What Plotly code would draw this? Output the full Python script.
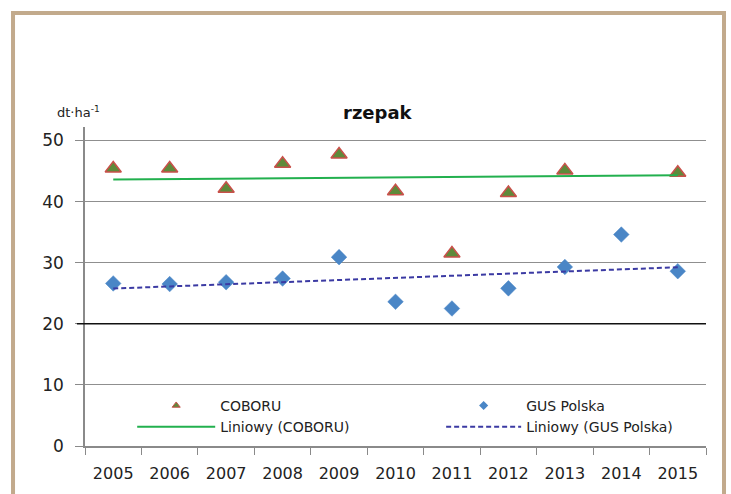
import numpy as np
import plotly.graph_objects as go

# Yields of winter oilseed rape, dt/ha
years = ["2005", "2006", "2007", "2008", "2009", "2010", "2011", "2012", "2013", "2014", "2015"]
coboru = [45.4, 45.4, 42.1, 46.2, 47.7, 41.7, 31.5, 41.4, 45.1, 52.3, 44.7]
gus_polska = [26.6, 26.5, 26.8, 27.4, 30.9, 23.6, 22.5, 25.8, 29.3, 34.6, 28.6]
y_ticks = [0, 10, 20, 30, 40, 50]


def linear_trend(values):
    t = np.arange(len(values))
    slope, intercept = np.polyfit(t, values, 1)
    return list(intercept + slope * t)


FONT = "DejaVu Sans"
TRI_FILL, TRI_EDGE = "#5e8a3a", "#c9504a"
DIA_FILL = "#4a86c6"
GREEN = "#22b04e"
NAVY = "#3b3aa3"

fig = go.Figure()

# data markers
fig.add_trace(go.Scatter(
    x=years, y=coboru, mode="markers", showlegend=False, cliponaxis=False,
    marker=dict(symbol="triangle-up", size=14, color=TRI_FILL,
                line=dict(color=TRI_EDGE, width=1.5)),
))
fig.add_trace(go.Scatter(
    x=years, y=gus_polska, mode="markers", showlegend=False, cliponaxis=False,
    marker=dict(symbol="diamond", size=12, color=DIA_FILL,
                line=dict(color=DIA_FILL, width=0.5)),
))
# linear trends
fig.add_trace(go.Scatter(
    x=years, y=linear_trend(coboru), mode="lines", showlegend=False,
    line=dict(color=GREEN, width=2),
))
fig.add_trace(go.Scatter(
    x=years, y=linear_trend(gus_polska), mode="lines", showlegend=False,
    line=dict(color=NAVY, width=2, dash="5px,3px"),
))

# legend entries (smaller legend symbols), two columns
fig.add_trace(go.Scatter(
    x=[None], y=[None], mode="markers", name="COBORU", legend="legend",
    marker=dict(symbol="triangle-up", size=7, color=TRI_FILL,
                line=dict(color=TRI_EDGE, width=1)),
))
fig.add_trace(go.Scatter(
    x=[None], y=[None], mode="lines", name="Liniowy (COBORU)", legend="legend",
    line=dict(color=GREEN, width=2),
))
fig.add_trace(go.Scatter(
    x=[None], y=[None], mode="markers", name="GUS Polska", legend="legend2",
    marker=dict(symbol="diamond", size=7, color=DIA_FILL),
))
fig.add_trace(go.Scatter(
    x=[None], y=[None], mode="lines", name="Liniowy (GUS Polska)", legend="legend2",
    line=dict(color=NAVY, width=2, dash="5px,3px"),
))

legend_style = dict(orientation="v", xanchor="left", y=0.176, yanchor="top",
                    traceorder="normal", bgcolor="rgba(0,0,0,0)",
                    font=dict(family=FONT, size=14, color="#222222"))

fig.update_layout(
    width=731, height=494,
    margin=dict(l=85, r=25, t=127, b=48),
    paper_bgcolor="white", plot_bgcolor="white",
    font=dict(family=FONT, size=16, color="#222222"),
    legend=dict(x=0.076, itemwidth=78, **legend_style),
    legend2=dict(x=0.5735, itemwidth=75, **legend_style),
    xaxis=dict(type="category", range=[-0.5, len(years) - 0.5],
               showline=True, linecolor="#8a8a8a", linewidth=1.5,
               ticks="outside", tickson="boundaries", ticklen=7,
               tickcolor="#8a8a8a", tickwidth=1.2, showgrid=False,
               ticklabelstandoff=12,
               tickfont=dict(size=16, color="#222222"), fixedrange=True),
    yaxis=dict(range=[0, 52.2], tickvals=y_ticks, showgrid=True,
               gridcolor="#8f8f8f", gridwidth=1.2, zeroline=False,
               showline=True, linecolor="#8a8a8a", linewidth=1.5,
               ticks="outside", ticklen=8, tickcolor="#8a8a8a", tickwidth=1.2,
               ticklabelstandoff=8,
               tickfont=dict(size=17, color="#222222"), fixedrange=True),
    annotations=[
        dict(text="<b>rzepak</b>", xref="paper", yref="paper",
             x=0.472, y=1.047, xanchor="center", yanchor="middle", showarrow=False,
             font=dict(family=FONT, size=18, color="#111111")),
        dict(text="dt·ha<sup>-1</sup>", xref="paper", yref="paper",
             x=-0.011, y=1.047, xanchor="center", yanchor="middle",
             showarrow=False, font=dict(family=FONT, size=13, color="#222222")),
    ],
    shapes=[
        # darker rule at 20
        dict(type="line", xref="paper", yref="y", x0=-0.013, x1=1.0, y0=20, y1=20,
             line=dict(color="#111111", width=1.5), layer="above"),
        # outer frame
        dict(type="rect", xref="paper", yref="paper",
             x0=-0.1159, x1=1.029, y0=-0.2, y1=1.357,
             line=dict(color="#c2aa8c", width=4), fillcolor="rgba(0,0,0,0)"),
    ],
)

fig.write_html("out.html")
